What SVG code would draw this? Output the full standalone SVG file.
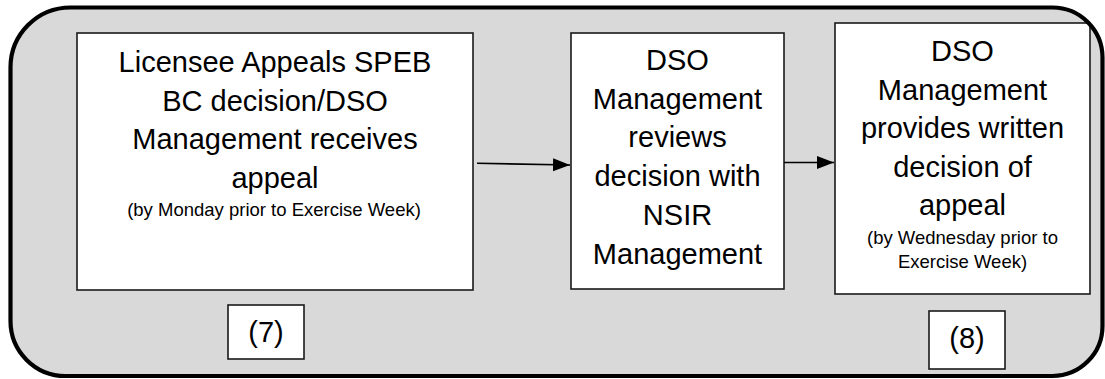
<svg xmlns="http://www.w3.org/2000/svg" width="1105" height="379" viewBox="0 0 1105 379">
  <defs>
    <style>
      .frame-fill { fill: #d9d9d9; stroke: none; }
      .frame-line { fill: none; stroke: #000; stroke-width: 4.2; }
      .box { fill: #fff; stroke: #1a1a1a; stroke-width: 1.6; }
      .big { font-family: "Liberation Sans", Arial, sans-serif; font-size: 29px; fill: #000; text-anchor: middle; }
      .small { font-family: "Liberation Sans", Arial, sans-serif; font-size: 18.5px; fill: #000; text-anchor: middle; }
      .link { fill: none; stroke: #000; stroke-width: 1.6; marker-end: url(#head); }
    </style>
    <marker id="head" markerUnits="userSpaceOnUse" markerWidth="18" markerHeight="14" refX="17" refY="6.5" orient="auto">
      <path d="M0,0 L17,6.5 L0,13 Z" fill="#000"/>
    </marker>
    <!-- outline of the grey panel; corners have slightly different radii -->
    <path id="panel" d="M70.5,7.5 H1052.5 A50,50 0 0 1 1102.5,57.5 V326 A50,50 0 0 1 1052.5,376 H65.5 A55,55 0 0 1 10.5,321 V67.5 A60,60 0 0 1 70.5,7.5 Z"/>
  </defs>

  <!-- rounded grey panel behind the process steps -->
  <use href="#panel" class="frame-fill"/>

  <g id="step-appeal">
    <rect class="box" x="77" y="33" width="396" height="257"/>
    <text class="big" x="275" y="72">Licensee Appeals SPEB</text>
    <text class="big" x="275" y="110.7">BC decision/DSO</text>
    <text class="big" x="275" y="149.4">Management receives</text>
    <text class="big" x="275" y="188">appeal</text>
    <text class="small" x="274" y="216">(by Monday prior to Exercise Week)</text>
  </g>

  <g id="step-review">
    <rect class="box" x="571" y="33" width="213" height="256"/>
    <text class="big" x="677.5" y="70">DSO</text>
    <text class="big" x="677.5" y="108.7">Management</text>
    <text class="big" x="677.5" y="147.4">reviews</text>
    <text class="big" x="677.5" y="186">decision with</text>
    <text class="big" x="677.5" y="224.8">NSIR</text>
    <text class="big" x="677.5" y="263.5">Management</text>
  </g>

  <g id="step-decision">
    <rect class="box" x="835" y="23" width="255" height="271"/>
    <text class="big" x="962.5" y="61">DSO</text>
    <text class="big" x="962.5" y="99.6">Management</text>
    <text class="big" x="962.5" y="138.2">provides written</text>
    <text class="big" x="962.5" y="176.8">decision of</text>
    <text class="big" x="962.5" y="215.4">appeal</text>
    <text class="small" x="962.5" y="244">(by Wednesday prior to</text>
    <text class="small" x="962.5" y="268">Exercise Week)</text>
  </g>

  <g id="label-7">
    <rect class="box" x="228" y="305" width="76" height="54"/>
    <text class="big" x="266" y="342">(7)</text>
  </g>

  <g id="label-8">
    <rect class="box" x="929" y="311" width="76" height="58"/>
    <text class="big" x="967" y="348">(8)</text>
  </g>

  <g id="connectors">
    <line class="link" x1="477" y1="163.3" x2="570" y2="165"/>
    <line class="link" x1="784" y1="162.5" x2="834" y2="162.5"/>
  </g>

  <!-- panel outline drawn last so it sits over the step boxes -->
  <use href="#panel" class="frame-line"/>
</svg>
